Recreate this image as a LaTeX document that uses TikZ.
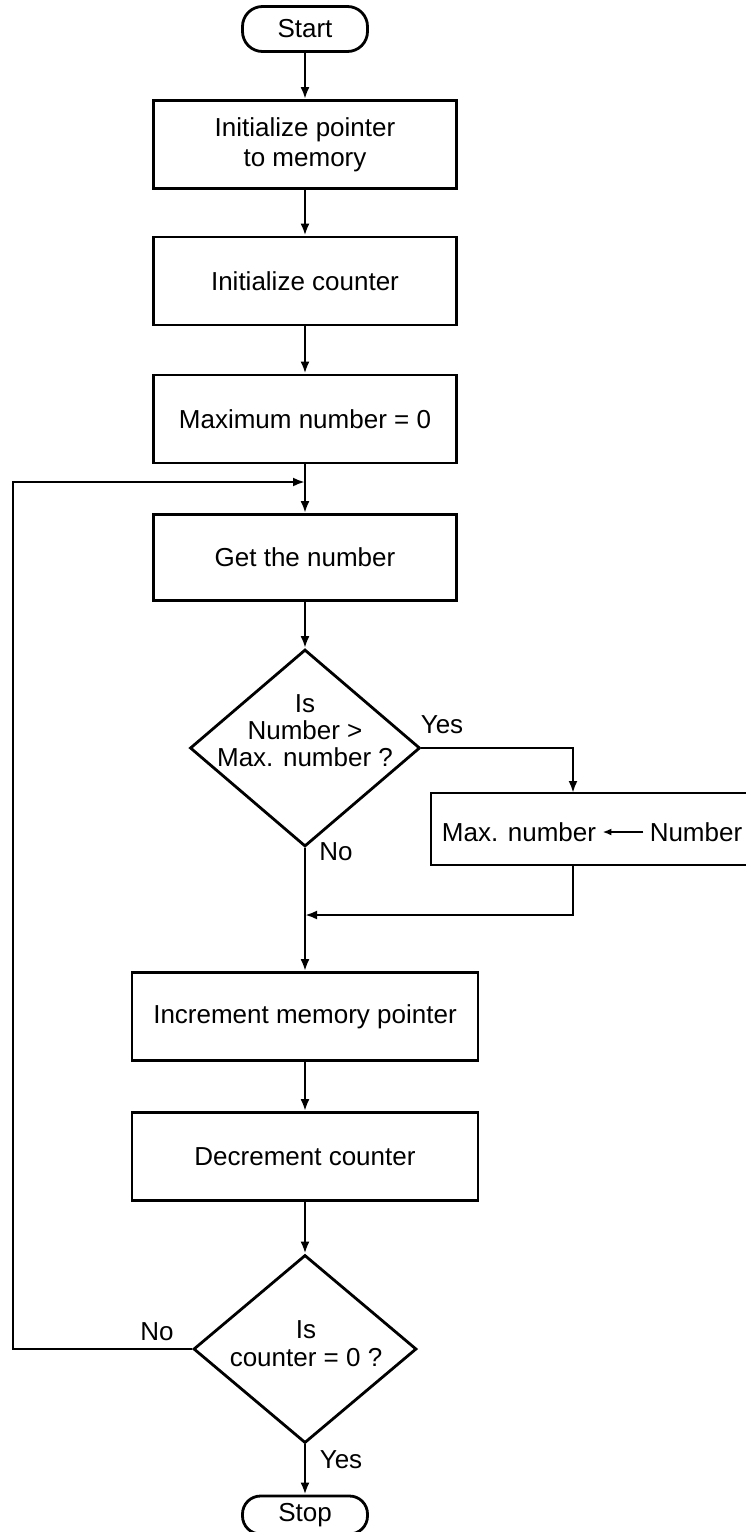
\documentclass[tikz,border=0pt]{standalone}
\usepackage{fontspec}
\setmainfont{Liberation Sans}
\usetikzlibrary{shapes.geometric,arrows.meta}

\tikzset{
  stepbox/.style={draw, rectangle, minimum width=151.5pt, minimum height=44pt, align=center, inner sep=0pt},
  widebox/.style={stepbox, minimum width=173pt},
  terminal/.style={draw, rectangle, rounded corners=10pt, minimum width=62.5pt, minimum height=22.5pt, inner sep=0pt},
  decision/.style={draw, diamond, inner sep=0pt},
  flow/.style={-{Latex[length=6pt,width=4.5pt]}},
  tag/.style={inner sep=0pt}
}

\begin{document}
\begin{tikzpicture}[x=0.5pt, y=-0.5pt, line width=1.4pt,
    every node/.append style={font=\fontsize{13pt}{15pt}\selectfont}]
    \useasboundingbox (0,0) rectangle (745,1532);

    % Set-up
    \node[terminal] (start) at (305,29) {Start};
    \node[stepbox] (initptr) at (305,144.5) {Initialize pointer\\to memory};
    \node[stepbox] (initcnt) at (305,281) {Initialize counter};
    \node[stepbox] (maxzero) at (305,419) {Maximum number = 0};

    % Loop body
    \coordinate (join1) at (305,482);
    \node[stepbox, minimum height=43pt] (getnum) at (305,557.5) {Get the number};
    \node[decision, minimum width=115pt, minimum height=98.5pt] (isbig) at (305,748) {};
    \node[align=center, font=\fontsize{13pt}{13.5pt}\selectfont] (isbigtext) at (305,731) {Is\\Number >\\Max. number ?};

    \node[draw, rectangle, minimum width=158pt, minimum height=36pt] (update) at (589,829) {};
    \node[inner sep=2.5pt] (maxname) at (519,832) {Max. number};
    \node[inner sep=2.5pt] (newval) at (696,832) {Number};
    \coordinate (yesdrop) at (573,793);
    \coordinate (yesrise) at (573,865);
    \coordinate (join2) at (305,915);

    \node[widebox] (incptr) at (305,1016.5) {Increment memory pointer};
    \node[widebox] (deccnt) at (305,1156.5) {Decrement counter};
    \node[decision, minimum width=111.5pt, minimum height=94pt] (iszero) at (305,1349) {};
    \node[align=center, font=\fontsize{13pt}{14pt}\selectfont] (iszerotext) at (306,1344) {Is\\counter = 0 ?};
    \node[terminal, minimum height=19pt, rounded corners=9pt] (stop) at (305,1515) {Stop};
    \coordinate (loopcorner) at (13,1349);

    % Labels
    \node[tag] (yesbig) at (442,725) {Yes};
    \node[tag] (nobig) at (336,852) {No};
    \node[tag] (nozero) at (157,1332) {No};
    \node[tag] (yeszero) at (341,1460) {Yes};

    % Connectors
    \draw[flow] (start) -- (initptr);
    \draw[flow] (initptr) -- (initcnt);
    \draw[flow] (initcnt) -- (maxzero);
    \draw[flow] (maxzero) -- (getnum);
    \draw[flow] (getnum) -- (isbig);
    \draw[flow] (isbig.east) -| (yesdrop);
    \draw[-{Latex[length=4.5pt,width=3.5pt]}] (newval) -- (maxname);
    \draw[flow] (yesrise) |- (join2);
    \draw[flow] (isbig) -- (incptr);
    \draw[flow] (incptr) -- (deccnt);
    \draw[flow] (deccnt) -- (iszero);
    \draw[flow] (iszero) -- (stop);
    \draw[flow] (iszero.west) -- (loopcorner) |- (join1);
\end{tikzpicture}
\end{document}
